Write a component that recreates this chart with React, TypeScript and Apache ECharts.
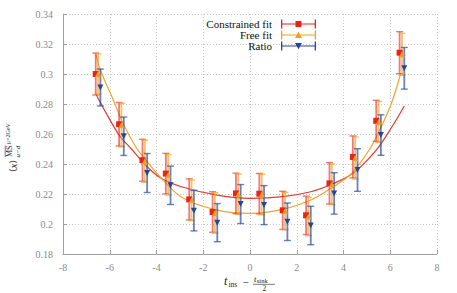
import React, { useEffect, useRef } from "react";
import * as echarts from "echarts";

// ---- data ----
const times = [-6.5, -5.5, -4.5, -3.5, -2.5, -1.5, -0.5, 0.5, 1.5, 2.5, 3.5, 4.5, 5.5, 6.5];

const constrainedValues = [0.300, 0.2665, 0.2425, 0.2336, 0.2164, 0.2080, 0.2204, 0.2202, 0.2091, 0.2058, 0.2271, 0.2447, 0.2688, 0.3142];
const constrainedErrors = [0.0140, 0.0145, 0.0140, 0.0135, 0.0137, 0.0135, 0.0135, 0.0135, 0.0127, 0.0128, 0.0138, 0.0140, 0.0137, 0.0140];

const freeValues = [0.3000, 0.2660, 0.2418, 0.2328, 0.2158, 0.2074, 0.2198, 0.2196, 0.2086, 0.2050, 0.2265, 0.2440, 0.2680, 0.3132];
const freeErrors = [0.0135, 0.0145, 0.0140, 0.0135, 0.0135, 0.0135, 0.0135, 0.0135, 0.0125, 0.0128, 0.0135, 0.0140, 0.0137, 0.0140];

const ratioValues = [0.2910, 0.2585, 0.2340, 0.2258, 0.2089, 0.2009, 0.2133, 0.2126, 0.2015, 0.1990, 0.2204, 0.2360, 0.2593, 0.3038];
const ratioErrors = [0.0123, 0.0128, 0.0130, 0.0128, 0.0135, 0.0127, 0.0130, 0.0130, 0.0125, 0.0128, 0.0138, 0.0142, 0.0135, 0.0139];

const constrainedCurveX = [-6.6, -6.3, -5.6, -5.1, -4.4, -3.8, -2.9, -1.4, 0, 1.4, 2.6, 3.5, 4.4, 5.4, 6.1, 6.6];
const constrainedCurveY = [0.287, 0.278, 0.2593, 0.2505, 0.2382, 0.2305, 0.2247, 0.2193, 0.2171, 0.2182, 0.2215, 0.2265, 0.2338, 0.2493, 0.2655, 0.2787];

const freeCurveX = [-6.6, -6.4, -5.85, -5.4, -4.85, -4.4, -3.85, -2.85, -1.4, 0, 1.4, 2.6, 3.4, 4.0, 4.4, 5.1, 5.55, 6.05, 6.45];
const freeCurveY = [0.3138, 0.3027, 0.2827, 0.266, 0.2505, 0.2415, 0.2315, 0.2171, 0.2093, 0.2071, 0.2098, 0.216, 0.2231, 0.2293, 0.2345, 0.2493, 0.2627, 0.2805, 0.3005];

const xTicks = { min: -8, max: 8, interval: 2 };
const yTicks = { min: 0.18, max: 0.34, interval: 0.02 };

const seriesNames = ["Constrained fit", "Free fit", "Ratio"];

// ---- styles ----
const RED = "#e8231b";
const RED_BAR = "rgba(232,40,30,0.62)";
const ORANGE = "#f0a020";
const ORANGE_BAR = "rgba(240,165,40,0.7)";
const BLUE = "#22479e";
const BLUE_BAR = "rgba(36,72,160,0.68)";
const SERIF = "Liberation Serif";

const offsets = [-0.1, 0, 0.1];

function errorData(values: number[], errs: number[], off: number) {
  return times.map((t, i) => [t + off, values[i] - errs[i], values[i] + errs[i]]);
}
function pointData(values: number[], off: number) {
  return times.map((t, i) => [t + off, values[i]]);
}
function curveData(xs: number[], ys: number[]) {
  return xs.map((x, i) => [x, ys[i]]);
}

function errorSeries(data: number[][], color: string) {
  return {
    type: "custom",
    silent: true,
    data,
    encode: { x: 0, y: [1, 2] },
    z: 3,
    renderItem: (_params: any, api: any) => {
      const x = api.value(0);
      const lo = api.coord([x, api.value(1)]);
      const hi = api.coord([x, api.value(2)]);
      const w = 3.5;
      return {
        type: "group",
        children: [
          { type: "line", shape: { x1: lo[0], y1: lo[1], x2: hi[0], y2: hi[1] }, style: { stroke: color, lineWidth: 1.8 } },
          { type: "line", shape: { x1: hi[0] - w, y1: hi[1], x2: hi[0] + w, y2: hi[1] }, style: { stroke: color, lineWidth: 1.4 } },
          { type: "line", shape: { x1: lo[0] - w, y1: lo[1], x2: lo[0] + w, y2: lo[1] }, style: { stroke: color, lineWidth: 1.4 } },
        ],
      };
    },
  };
}

const ICON_BASE = "M0,0H1.3V9H0Z M33.7,0H35V9H33.7Z M0,3.9H35V5.1H0Z";
const ICON_RED = "path://" + ICON_BASE + " M14.5,1.5H20.5V7.5H14.5Z";
const ICON_ORANGE = "path://" + ICON_BASE + " M17.5,1.2L21,7.4L14,7.4Z";
const ICON_BLUE = "path://" + ICON_BASE + " M14,1.6L21,1.6L17.5,7.8Z";

export default function App() {
  const ref = useRef<HTMLDivElement>(null);

  useEffect(() => {
    document.body.style.margin = "0";
    if (!ref.current) return;
    const chart = echarts.init(ref.current, null, { renderer: "svg" });

    const axisLabel = { color: "#8a8a8a", fontFamily: SERIF, fontSize: 10 };
    const split = { show: true, lineStyle: { color: "#c8c8c8", type: [1, 2] as any, width: 1 } };

    const option: any = {
      animation: false,
      backgroundColor: "#fff",
      grid: { left: 63, right: 20, top: 14, bottom: 39, containLabel: false },
      xAxis: {
        type: "value",
        min: xTicks.min,
        max: xTicks.max,
        interval: xTicks.interval,
        axisLine: { show: true, onZero: false, lineStyle: { color: "#a0a0a0", width: 1 } },
        axisTick: { show: true, inside: true, length: 4, lineStyle: { color: "#a0a0a0" } },
        axisLabel: { ...axisLabel, margin: 8 },
        splitLine: split,
      },
      yAxis: {
        type: "value",
        min: yTicks.min,
        max: yTicks.max,
        interval: yTicks.interval,
        axisLine: { show: true, onZero: false, lineStyle: { color: "#a0a0a0", width: 1 } },
        axisTick: { show: true, inside: true, length: 4, lineStyle: { color: "#a0a0a0" } },
        axisLabel: { ...axisLabel, margin: 10 },
        splitLine: split,
      },
      legend: {
        orient: "vertical",
        right: 141,
        top: 18.5,
        padding: 0,
        itemGap: 0,
        itemWidth: 35,
        itemHeight: 9,
        align: "right",
        selectedMode: false,
        z: 6,
        textStyle: { fontFamily: SERIF, fontSize: 11, color: "#111", lineHeight: 11, padding: [0, 4, 0, 0] },
        data: [
          { name: seriesNames[0], icon: ICON_RED },
          { name: seriesNames[1], icon: ICON_ORANGE },
          { name: seriesNames[2], icon: ICON_BLUE },
        ],
      },
      graphic: [
        // gaps in gridlines behind the key
        { type: "rect", z: 1, silent: true, shape: { x: 180, y: 40.5, width: 142, height: 3 }, style: { fill: "#fff" } },
        { type: "rect", z: 1, silent: true, shape: { x: 295.5, y: 15, width: 3, height: 36 }, style: { fill: "#fff" } },
        // y-axis title
        {
          type: "group",
          x: 13,
          y: 172,
          rotation: Math.PI / 2,
          silent: true,
          children: [
            {
              type: "text",
              x: 0,
              y: 0,
              style: {
                text: "{a|⟨}{i|x}{a|⟩}",
                align: "left",
                verticalAlign: "middle",
                textAlign: "left",
                textVerticalAlign: "middle",
                fill: "#222",
                rich: {
                  a: { fontFamily: "DejaVu Serif", fontSize: 9, fill: "#222" },
                  i: { fontFamily: SERIF, fontStyle: "italic", fontSize: 11, fill: "#222" },
                },
              },
            },
            {
              type: "text",
              x: 15,
              y: -3.5,
              style: { text: "MS", font: `8px ${SERIF}`, fill: "#222", align: "left", verticalAlign: "middle", textAlign: "left", textVerticalAlign: "middle" },
            },
            { type: "line", shape: { x1: 15, y1: -7.8, x2: 26.5, y2: -7.8 }, style: { stroke: "#222", lineWidth: 0.6 } },
            {
              type: "text",
              x: 28,
              y: -5.5,
              style: { text: "μ=2GeV", font: `6px ${SERIF}`, fill: "#222", align: "left", verticalAlign: "middle", textAlign: "left", textVerticalAlign: "middle" },
            },
            {
              type: "text",
              x: 14.5,
              y: 4.5,
              style: { text: "u−d", font: `italic 7px ${SERIF}`, fill: "#222", align: "left", verticalAlign: "middle", textAlign: "left", textVerticalAlign: "middle" },
            },
          ],
        },
        // x-axis title
        {
          type: "group",
          silent: true,
          children: [
            { type: "text", x: 224, y: 281, style: { text: "t", font: `italic 12px ${SERIF}`, fill: "#222", align: "left", verticalAlign: "middle", textAlign: "left", textVerticalAlign: "middle" } },
            { type: "text", x: 228.5, y: 284, style: { text: "ins", font: `7.5px ${SERIF}`, fill: "#222", align: "left", verticalAlign: "middle", textAlign: "left", textVerticalAlign: "middle" } },
            { type: "text", x: 242.5, y: 281.5, style: { text: "−", font: `11px ${SERIF}`, fill: "#222", align: "left", verticalAlign: "middle", textAlign: "left", textVerticalAlign: "middle" } },
            { type: "text", x: 254, y: 279, style: { text: "t", font: `italic 8.5px ${SERIF}`, fill: "#222", align: "left", verticalAlign: "middle", textAlign: "left", textVerticalAlign: "middle" } },
            { type: "text", x: 256.8, y: 280.5, style: { text: "sink", font: `6.5px ${SERIF}`, fill: "#222", align: "left", verticalAlign: "middle", textAlign: "left", textVerticalAlign: "middle" } },
            { type: "line", shape: { x1: 253, y1: 284.3, x2: 275, y2: 284.3 }, style: { stroke: "#222", lineWidth: 0.6 } },
            { type: "text", x: 264.3, y: 288.5, style: { text: "2", font: `7.5px ${SERIF}`, fill: "#222", align: "center", verticalAlign: "middle", textAlign: "center", textVerticalAlign: "middle" } },
          ],
        },
      ],
      series: [
        {
          type: "line",
          name: "constrained-curve",
          data: curveData(constrainedCurveX, constrainedCurveY),
          smooth: 0.35,
          showSymbol: false,
          silent: true,
          z: 2,
          lineStyle: { color: "#e53a2c", width: 1.2 },
          itemStyle: { color: "#e53a2c" },
        },
        {
          type: "line",
          name: "free-curve",
          data: curveData(freeCurveX, freeCurveY),
          smooth: 0.35,
          showSymbol: false,
          silent: true,
          z: 2,
          lineStyle: { color: "#f0a52a", width: 1.2 },
          itemStyle: { color: "#f0a52a" },
        },
        errorSeries(errorData(constrainedValues, constrainedErrors, offsets[0]), RED_BAR),
        {
          type: "scatter",
          name: seriesNames[0],
          data: pointData(constrainedValues, offsets[0]),
          symbol: "rect",
          symbolSize: 6,
          z: 4,
          itemStyle: { color: RED, opacity: 1 },
        },
        errorSeries(errorData(freeValues, freeErrors, offsets[1]), ORANGE_BAR),
        {
          type: "scatter",
          name: seriesNames[1],
          data: pointData(freeValues, offsets[1]),
          symbol: "triangle",
          symbolSize: 6,
          z: 4,
          itemStyle: { color: ORANGE, opacity: 1 },
        },
        errorSeries(errorData(ratioValues, ratioErrors, offsets[2]), BLUE_BAR),
        {
          type: "scatter",
          name: seriesNames[2],
          data: pointData(ratioValues, offsets[2]),
          symbol: "triangle",
          symbolRotate: 180,
          symbolSize: 6,
          z: 4,
          itemStyle: { color: BLUE, opacity: 1 },
        },
      ],
    };

    chart.setOption(option);
    return () => chart.dispose();
  }, []);

  return <div ref={ref} style={{ width: 457, height: 293 }} />;
}
